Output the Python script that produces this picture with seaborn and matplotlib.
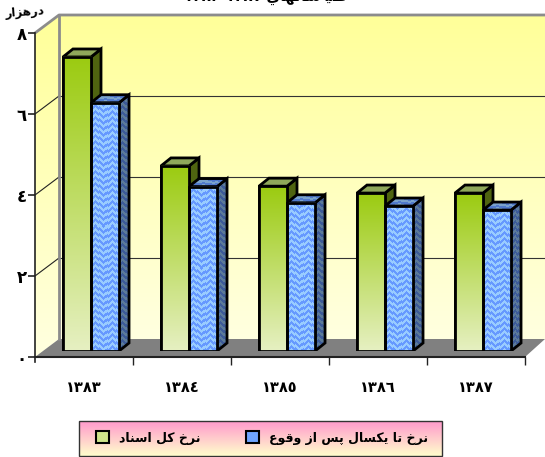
import numpy as np
import pandas as pd
import seaborn as sns
import matplotlib
matplotlib.use("Agg")
import matplotlib.pyplot as plt
from matplotlib.patches import Polygon, Patch, Rectangle
from matplotlib.colors import LinearSegmentedColormap, to_rgb

years = ["١٣٨٣", "١٣٨٤", "١٣٨٥", "١٣٨٦", "١٣٨٧"]
total_rate = [7.26, 4.57, 4.07, 3.90, 3.90]
one_year_rate = [6.13, 4.06, 3.66, 3.58, 3.48]
y_ticks = [0, 2, 4, 6, 8]
y_labels = ["٠", "٢", "٤", "٦", "٨"]

# arabic text with presentation forms, reversed below since matplotlib does not shape it
name_total = "\ufee7\ufeae\ufea5 \ufb90\ufede \ufe8d\ufeb3\ufee8\ufe8e\ufea9"
name_year = ("\ufee7\ufeae\ufea5 \ufe97\ufe8e \ufbfe\ufb91\ufeb4\ufe8e\ufedd "
             "\ufb58\ufeb2 \ufe8d\ufeaf \ufeed\ufed7\ufeee\ufec9")
unit_label = "\ufea9\ufead\ufeeb\ufeb0\ufe8d\ufead"
title_words = "\ufec1\ufef4 \ufeb3\ufe8e\ufedf\ufeec\ufe8e\ufef1"
title_years = "١٣٨٣-١٣٨٧"


def visual(s):
    return s[::-1]


W, H = 545, 457
plt.rcParams["font.family"] = ["DejaVu Sans"]
plt.rcParams["font.weight"] = "bold"
fig = plt.figure(figsize=(W / 100, H / 100), dpi=100, facecolor="white")


def px_axes(x0, y_top, x1, y_bottom):
    return fig.add_axes([x0 / W, 1 - y_bottom / H, (x1 - x0) / W, (y_bottom - y_top) / H])


# background in pixel units: walls, floor
bg = px_axes(0, 0, W, H)
bg.axis("off")

FX, FY0, UNIT = 35, 357, 40.5   # front plane
DX, DY = 24, -18                # depth of the box
FR = 525                        # front right corner
back_top = FY0 + DY - 8 * UNIT
back_bottom = FY0 + DY

wall_cmap = LinearSegmentedColormap.from_list("wall", ["#FFFF99", "#FFFFE0"])
grad = np.linspace(0, 1, 256).reshape(-1, 1)
bg.imshow(grad, cmap=wall_cmap, aspect="auto", zorder=1,
          extent=(FX + DX, W, back_bottom, back_top))
im = bg.imshow(grad, cmap=wall_cmap, aspect="auto", zorder=1,
               extent=(FX, FX + DX, FY0, back_top))
bg.set_xlim(0, W)
bg.set_ylim(H, 0)
im.set_clip_path(Polygon([(FX, FY0 - 8 * UNIT), (FX + DX, back_top), (FX + DX, back_bottom), (FX, FY0)],
                         transform=bg.transData))

# gridlines on the walls
for t in y_ticks[1:-1]:
    yf = FY0 - t * UNIT
    bg.plot([FX, FX + DX], [yf, yf + DY], color="#222222", lw=0.8, zorder=2)
    bg.plot([FX + DX, W], [yf + DY, yf + DY], color="#333333", lw=0.8, zorder=2)

# floor
bg.add_patch(Polygon([(FX, FY0), (FX + DX, back_bottom), (W, back_bottom), (FR, FY0)],
                     facecolor="#808080", edgecolor="none", zorder=3))
# wall frame
bg.plot([FX, FX + DX, W], [FY0 - 8 * UNIT, back_top, back_top], color="#8C8C8C", lw=2, zorder=3,
        solid_capstyle="butt")
bg.plot([FX + DX, FX + DX], [back_top, back_bottom], color="#8C8C8C", lw=2, zorder=3)

# legend box
bg.imshow(grad, cmap=LinearSegmentedColormap.from_list("leg", ["#FF99CC", "#FFFFCC"]), aspect="auto",
          extent=(79, 442, 456, 421), zorder=1)
bg.set_xlim(0, W)
bg.set_ylim(H, 0)
bg.add_patch(Rectangle((79, 421), 363, 35, facecolor="none", edgecolor="#333333", lw=1, zorder=2))

# scale axes: front plane, carries the ticks
scale = px_axes(FX, FY0 - 8 * UNIT, FR, FY0)
scale.patch.set_alpha(0)
scale.set_xlim(-0.5, 4.5)
scale.set_ylim(0, 8)
scale.set_yticks(y_ticks)
scale.set_yticklabels(y_labels, fontsize=12, fontweight="bold")
scale.set_xticks(np.arange(5) + 0.5)
scale.set_xticklabels([""] * 5)
scale.tick_params(axis="y", length=5, width=1.2, color="#222222", pad=1)
scale.tick_params(axis="x", length=6, width=1.0, color="#222222")
for s in ["top", "right"]:
    scale.spines[s].set_visible(False)
scale.spines["left"].set_linewidth(1.2)
scale.spines["bottom"].set_linewidth(1.5)
scale.spines["left"].set_color("#222222")
scale.spines["bottom"].set_color("#222222")
scale.spines["left"].set_bounds(-0.12, 8)
for i, lab in enumerate(years):
    scale.annotate(lab, (i, 0), xytext=(0, -22), textcoords="offset points", ha="center", va="center",
                   fontsize=10.5, fontweight="bold", annotation_clip=False)

# bars
df = pd.DataFrame({
    "year": years * 2,
    "rate": total_rate + one_year_rate,
    "kind": ["total"] * 5 + ["year"] * 5,
})
ax = px_axes(42, 351 - 8 * UNIT, 532, 351)
ax.patch.set_alpha(0)
sns.barplot(data=df, x="year", y="rate", hue="kind", hue_order=["total", "year"],
            palette=["#9BCB10", "#6FA5FF"], width=0.572, gap=0, dodge=True, legend=False,
            edgecolor="black", linewidth=2, ax=ax, zorder=3)
ax.set_xlim(-0.5, 4.5)
ax.set_ylim(0, 8)
ax.axis("off")

# woven blue texture
tile = 8
yy, xx = np.mgrid[0:340, 0:40]
zig = np.abs((xx % tile) - tile / 2)
flip = np.where((xx // tile) % 2 == 0, 1, -1)
band = ((yy + zig * flip) % 6) < 3
tex = np.where(band[..., None], np.array(to_rgb("#99CCFF")), np.array(to_rgb("#6699FF")))
green_cmap = LinearSegmentedColormap.from_list("bar", ["#E6F0C2", "#9BCB10"])

dx_d = 10 * 5 / 490      # depth in data units
dy_d = 8 / UNIT
edge = dict(edgecolor="black", linewidth=2, joinstyle="miter")


def textured_face(pts, shade, z):
    xs, ys = zip(*pts)
    rows = int(round((max(ys) - min(ys)) * UNIT)) + 1
    img = ax.imshow(tex[:rows, :12] * shade, aspect="auto", origin="lower", interpolation="nearest",
                    extent=(min(xs), max(xs), min(ys), max(ys)), zorder=z)
    img.set_clip_path(Polygon(pts, transform=ax.transData))
    ax.add_patch(Polygon(pts, facecolor="none", zorder=z + 0.1, **edge))


for cont, is_green in zip(ax.containers, [True, False]):
    for p in cont:
        x, w, h = p.get_x(), p.get_width(), p.get_height()
        side = [(x + w, 0), (x + w + dx_d, dy_d), (x + w + dx_d, h + dy_d), (x + w, h)]
        top = [(x, h), (x + dx_d, h + dy_d), (x + w + dx_d, h + dy_d), (x + w, h)]
        if is_green:
            ax.add_patch(Polygon(side, facecolor="#4F6410", zorder=4, **edge))
            ax.add_patch(Polygon(top, facecolor="#8FA85A", zorder=4, **edge))
            ax.imshow(grad, cmap=green_cmap, aspect="auto", origin="lower",
                      extent=(x, x + w, 0, h), zorder=5)
        else:
            textured_face(side, 0.6, 4)
            textured_face(top, 0.8, 4.2)
            rows = int(round(h * UNIT))
            ax.imshow(tex[:rows, :28], aspect="auto", origin="lower", extent=(x, x + w, 0, h),
                      interpolation="nearest", zorder=5)
        ax.add_patch(Rectangle((x, 0), w, h, facecolor="none", zorder=6, **edge))
ax.set_xlim(-0.5, 4.5)
ax.set_ylim(0, 8)

# top title, cut by the edge of the image as in the source
fig.text(265 / W, 1 + 3 / H, title_years + " " + visual(title_words), ha="center", va="center",
         fontsize=10.5, fontweight="bold")
fig.text(25 / W, 1 - 12 / H, visual(unit_label), ha="center", va="center", fontsize=8.5,
         fontweight="bold", rotation=4)

handles = [Patch(facecolor="#CFE58A", edgecolor="black", linewidth=1.5, label=visual(name_total)),
           Patch(facecolor="#6FA5FF", edgecolor="black", linewidth=1.5, label=visual(name_year))]
fig.legend(handles=handles, loc="center", bbox_to_anchor=(262 / W, 1 - 438 / H), ncol=2, frameon=False,
           fontsize=9, handlelength=1.05, handleheight=1.05, columnspacing=3.6, handletextpad=0.8)

fig.savefig("out.png", dpi=100)
plt.close()
